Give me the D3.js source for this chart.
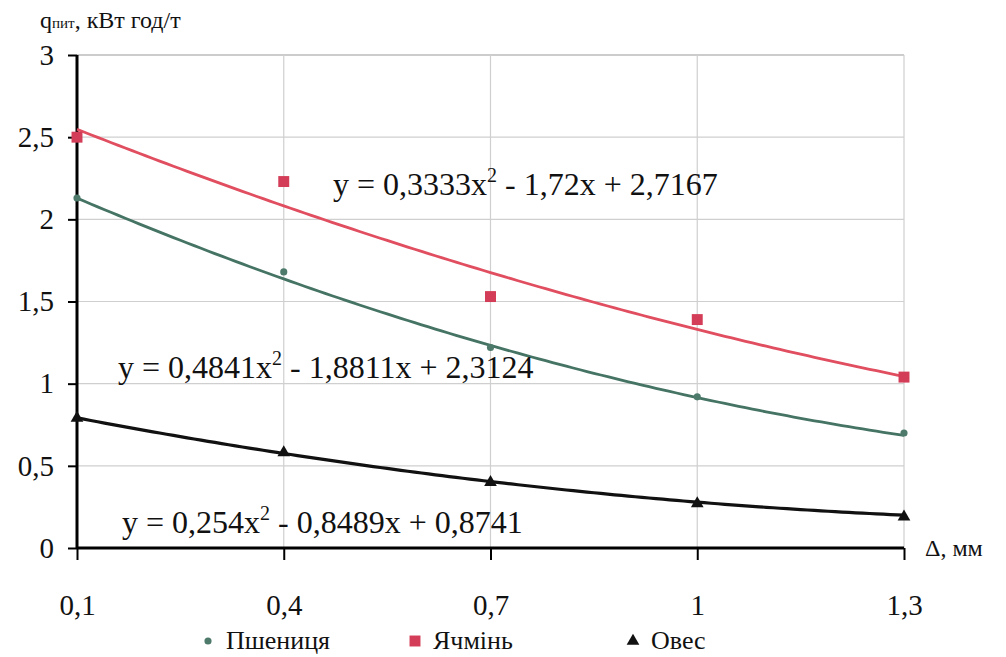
<!DOCTYPE html>
<html>
<head>
    <meta charset="utf-8">
    <title>qпит від Δ</title>
    <script src="https://d3js.org/d3.v7.min.js"></script>
    <style>
        body { margin: 0; background: #fff; }
    </style>
</head>
<body>
<script>
    // data
    const categories = [0.1, 0.4, 0.7, 1.0, 1.3];
    const pshenytsia = [2.13, 1.68, 1.22, 0.92, 0.70];
    const yachmin = [2.50, 2.23, 1.53, 1.39, 1.04];
    const oves = [0.79, 0.58, 0.40, 0.27, 0.19];
    const yTicks = [0, 0.5, 1, 1.5, 2, 2.5, 3];

    // trendline coefficients (a, b, c) as printed on the chart
    const trendPshenytsia = [0.4841, -1.8811, 2.3124];
    const trendYachmin = [0.3333, -1.72, 2.7167];
    const trendOves = [0.254, -0.8489, 0.8741];

    const w = 1006, h = 657;
    const plotL = 77, plotR = 904, plotT = 55, plotB = 548;
    const serif = "'Liberation Serif', 'Times New Roman', serif";

    const x = d3.scaleLinear().domain([0.1, 1.3]).range([plotL, plotR]);
    const y = d3.scaleLinear().domain([0, 3]).range([plotB, plotT]);
    const fmt = d => String(+d.toFixed(1)).replace(".", ",");

    const svg = d3.select("body").append("svg")
        .attr("width", w).attr("height", h);

    // grid
    svg.append("g").selectAll("line")
        .data(yTicks.filter(d => d > 0))
        .join("line")
        .attr("x1", plotL).attr("x2", plotR)
        .attr("y1", d => y(d)).attr("y2", d => y(d))
        .attr("stroke", d => d === 3 ? "#999" : "#cfcfcf")
        .attr("stroke-width", 1.2);
    svg.append("g").selectAll("line")
        .data(categories.slice(1))
        .join("line")
        .attr("x1", d => x(d)).attr("x2", d => x(d))
        .attr("y1", plotT).attr("y2", plotB)
        .attr("stroke", "#cfcfcf")
        .attr("stroke-width", 1.2);

    // axes
    const yAxis = svg.append("g")
        .attr("transform", "translate(" + plotL + ",0)")
        .call(d3.axisLeft(y).tickValues(yTicks).tickSize(9).tickPadding(14).tickFormat(fmt));
    yAxis.select(".domain").attr("stroke", "#000").attr("stroke-width", 3)
        .attr("d", "M0," + plotT + "V" + plotB);
    yAxis.selectAll(".tick line").attr("stroke", "#000").attr("stroke-width", 2);
    yAxis.selectAll(".tick text").attr("dy", "0.32em");

    const xAxis = svg.append("g")
        .attr("transform", "translate(0," + plotB + ")")
        .call(d3.axisBottom(x).tickValues(categories).tickSize(12).tickPadding(34).tickFormat(fmt));
    xAxis.select(".domain").attr("stroke", "#000").attr("stroke-width", 3)
        .attr("d", "M" + plotL + ",0H" + plotR);
    xAxis.selectAll(".tick line").attr("stroke", "#000").attr("stroke-width", 2);

    svg.selectAll(".tick text")
        .style("font-family", serif).style("font-size", "29px").attr("fill", "#111");

    // axis titles
    const yt = svg.append("text").attr("x", 40).attr("y", 28)
        .style("font-family", serif).style("font-size", "24px").attr("fill", "#111");
    yt.append("tspan").text("q");
    yt.append("tspan").style("font-size", "15px").text("пит");
    yt.append("tspan").text(", кВт год/т");

    svg.append("text").attr("x", 925).attr("y", 556)
        .style("font-family", serif).style("font-size", "24px").attr("fill", "#111")
        .text("Δ, мм");

    // trendlines
    const series = [
        { name: "Пшениця", vals: pshenytsia, coef: trendPshenytsia, line: "#457464", mark: "#4d7a6a", shape: "circle", size: 40 },
        { name: "Ячмінь", vals: yachmin, coef: trendYachmin, line: "#e04e60", mark: "#d43d57", shape: "square", size: 120 },
        { name: "Овес", vals: oves, coef: trendOves, line: "#111", mark: "#111", shape: "triangle", size: 70 }
    ];
    const symbolOf = s => s === "circle" ? d3.symbolCircle : s === "square" ? d3.symbolSquare : d3.symbolTriangle;

    const xs = d3.range(0.1, 1.3001, 0.01);
    const line = d3.line().x(d => x(d[0])).y(d => y(d[1]));

    series.forEach(s => {
        const [a, b, c] = s.coef;
        svg.append("path")
            .attr("d", line(xs.map(t => [t, a * t * t + b * t + c])))
            .attr("fill", "none")
            .attr("stroke", s.line)
            .attr("stroke-width", s.shape === "triangle" ? 3.2 : 2.8);
    });

    series.forEach(s => {
        svg.append("g").selectAll("path")
            .data(s.vals)
            .join("path")
            .attr("transform", (d, i) => "translate(" + x(categories[i]) + "," + y(d) + ")")
            .attr("d", d3.symbol().type(symbolOf(s.shape)).size(s.size))
            .attr("fill", s.mark);
    });

    // equations
    const equations = [
        { x: 333, y: 195, a: "y = 0,3333x", b: " - 1,72x + 2,7167" },
        { x: 118, y: 378, a: "y = 0,4841x", b: " - 1,8811x + 2,3124" },
        { x: 122, y: 533, a: "y = 0,254x", b: " - 0,8489x + 0,8741" }
    ];
    equations.forEach(e => {
        const t = svg.append("text").attr("x", e.x).attr("y", e.y)
            .style("font-family", serif).style("font-size", "32px").attr("fill", "#111");
        t.append("tspan").text(e.a);
        t.append("tspan").attr("dy", -13).style("font-size", "20px").text("2");
        t.append("tspan").attr("dy", 13).text(e.b);
    });

    // legend
    const legendX = [208, 415, 633];
    series.forEach((s, i) => {
        svg.append("path")
            .attr("transform", "translate(" + legendX[i] + ",641)")
            .attr("d", d3.symbol().type(symbolOf(s.shape)).size(s.size))
            .attr("fill", s.mark);
        svg.append("text")
            .attr("x", legendX[i] + 18).attr("y", 649)
            .style("font-family", serif).style("font-size", "26px").attr("fill", "#111")
            .text(s.name);
    });
</script>
</body>
</html>
